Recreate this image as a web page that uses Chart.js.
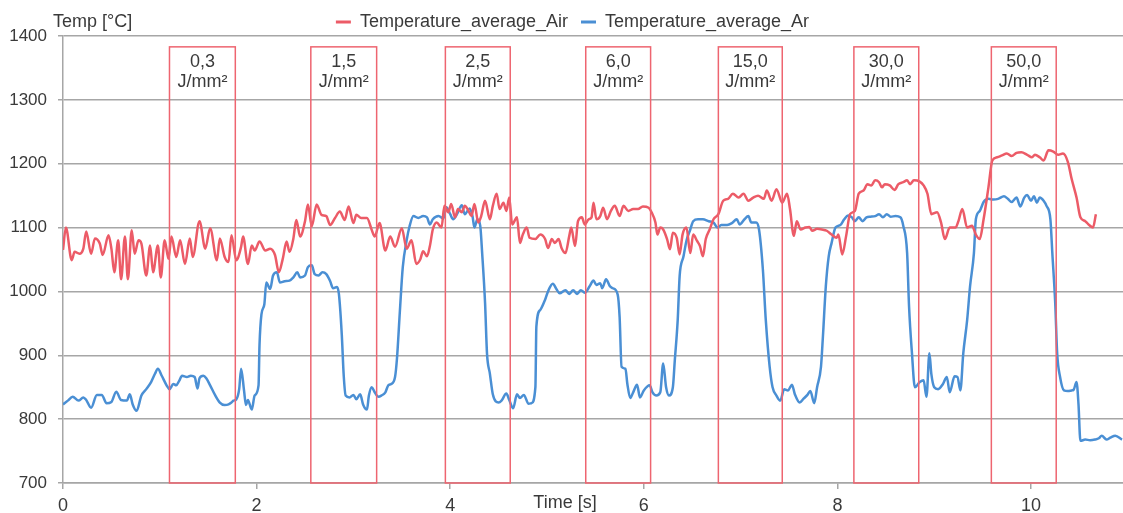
<!DOCTYPE html>
<html lang="en">
<head>
    <meta charset="UTF-8">
    <title>Temperature average Air / Ar</title>
    <script src="https://cdn.jsdelivr.net/npm/chart.js"></script>
    <style>
        body {
            margin: 0;
            padding: 0;
            background-color: #ffffff;
        }

        .chart-container {
            width: 1123px;
            height: 513px;
            position: relative;
        }
    </style>
</head>
<body>
    <div class="chart-container">
        <canvas id="tempChart"></canvas>
    </div>

    <script>
        // Time [s] and temperature [°C]
        const airTime = [0.00, 0.03, 0.09, 0.12, 0.17, 0.21, 0.24, 0.29, 0.33, 0.38, 0.41, 0.47, 0.50, 0.53, 0.57, 0.60, 0.64, 0.67, 0.71, 0.74,
            0.78, 0.81, 0.86, 0.90, 0.93, 0.98, 1.01, 1.05, 1.09, 1.12, 1.17, 1.21, 1.26, 1.31, 1.34, 1.41, 1.47, 1.52, 1.59, 1.62,
            1.67, 1.71, 1.74, 1.79, 1.84, 1.86, 1.91, 1.95, 1.98, 2.03, 2.09, 2.14, 2.19, 2.23, 2.27, 2.31, 2.34, 2.38, 2.41, 2.45,
            2.50, 2.53, 2.57, 2.62, 2.67, 2.72, 2.76, 2.81, 2.86, 2.91, 2.95, 3.00, 3.03, 3.08, 3.14, 3.19, 3.22, 3.27, 3.33, 3.38,
            3.43, 3.50, 3.55, 3.60, 3.65, 3.69, 3.72, 3.76, 3.79, 3.82, 3.86, 3.91, 3.94, 3.98, 4.01, 4.05, 4.08, 4.12, 4.15, 4.19,
            4.22, 4.25, 4.29, 4.32, 4.36, 4.41, 4.44, 4.48, 4.51, 4.55, 4.58, 4.61, 4.64, 4.69, 4.72, 4.75, 4.79, 4.82, 4.88, 4.93,
            4.98, 5.01, 5.05, 5.08, 5.12, 5.15, 5.19, 5.23, 5.25, 5.29, 5.32, 5.36, 5.39, 5.43, 5.46, 5.48, 5.51, 5.55, 5.58, 5.62,
            5.66, 5.70, 5.75, 5.79, 5.84, 5.89, 5.94, 5.99, 6.05, 6.08, 6.12, 6.14, 6.17, 6.20, 6.24, 6.27, 6.30, 6.34, 6.37, 6.40,
            6.44, 6.48, 6.51, 6.55, 6.58, 6.61, 6.64, 6.68, 6.72, 6.77, 6.82, 6.87, 6.92, 6.98, 7.03, 7.08, 7.13, 7.18, 7.24, 7.27,
            7.32, 7.37, 7.43, 7.48, 7.51, 7.55, 7.58, 7.62, 7.67, 7.71, 7.74, 7.79, 7.84, 7.89, 7.94, 7.99, 8.01, 8.05, 8.09, 8.13,
            8.18, 8.22, 8.27, 8.31, 8.35, 8.39, 8.43, 8.46, 8.49, 8.54, 8.59, 8.63, 8.68, 8.72, 8.75, 8.79, 8.85, 8.89, 8.93, 8.97,
            9.03, 9.07, 9.11, 9.16, 9.22, 9.25, 9.29, 9.34, 9.39, 9.43, 9.47, 9.51, 9.56, 9.60, 9.65, 9.70, 9.75, 9.80, 9.85, 9.90,
            9.96, 10.01, 10.04, 10.09, 10.13, 10.18, 10.23, 10.28, 10.33, 10.38, 10.42, 10.47, 10.51, 10.56, 10.60, 10.64, 10.67];
        const airTemp = [1065, 1100, 1049, 1062, 1059, 1067, 1094, 1059, 1083, 1075, 1057, 1088, 1067, 1030, 1080, 1019, 1086, 1019, 1096, 1059,
            1080, 1075, 1025, 1072, 1030, 1072, 1022, 1080, 1051, 1086, 1054, 1080, 1043, 1083, 1054, 1110, 1067, 1099, 1049, 1083,
            1054, 1046, 1088, 1049, 1070, 1086, 1043, 1072, 1064, 1078, 1064, 1067, 1057, 1030, 1051, 1078, 1062, 1083, 1112, 1086,
            1110, 1136, 1102, 1136, 1120, 1118, 1104, 1115, 1125, 1112, 1133, 1107, 1120, 1115, 1115, 1096, 1086, 1107, 1064, 1086,
            1070, 1099, 1067, 1080, 1043, 1050, 1063, 1055, 1071, 1097, 1108, 1100, 1134, 1124, 1137, 1116, 1129, 1124, 1134, 1126,
            1118, 1137, 1108, 1118, 1142, 1113, 1134, 1153, 1129, 1139, 1126, 1147, 1105, 1116, 1076, 1089, 1100, 1084, 1082, 1089,
            1082, 1068, 1082, 1076, 1082, 1068, 1060, 1087, 1100, 1071, 1110, 1116, 1105, 1113, 1116, 1139, 1113, 1118, 1131, 1113,
            1126, 1134, 1118, 1134, 1126, 1129, 1129, 1133, 1131, 1124, 1108, 1089, 1100, 1097, 1082, 1066, 1092, 1084, 1058, 1089,
            1100, 1060, 1089, 1079, 1071, 1055, 1082, 1097, 1113, 1121, 1142, 1145, 1153, 1147, 1153, 1142, 1147, 1150, 1145, 1158,
            1142, 1160, 1139, 1153, 1129, 1087, 1110, 1097, 1100, 1101, 1095, 1098, 1097, 1095, 1089, 1084, 1089, 1058, 1087, 1121,
            1126, 1153, 1158, 1168, 1166, 1174, 1171, 1163, 1168, 1166, 1159, 1168, 1171, 1174, 1168, 1174, 1172, 1166, 1153, 1121,
            1124, 1108, 1082, 1100, 1100, 1110, 1129, 1100, 1103, 1089, 1082, 1113, 1163, 1205, 1210, 1213, 1216, 1212, 1217, 1218,
            1214, 1210, 1214, 1210, 1205, 1221, 1219, 1214, 1216, 1203, 1176, 1147, 1116, 1110, 1104, 1100, 1121];

        const arTime = [0.00, 0.05, 0.10, 0.16, 0.21, 0.24, 0.29, 0.35, 0.40, 0.45, 0.50, 0.55, 0.60, 0.66, 0.69, 0.72, 0.76, 0.81, 0.86, 0.91,
            0.95, 0.98, 1.02, 1.07, 1.10, 1.14, 1.17, 1.20, 1.23, 1.28, 1.32, 1.36, 1.39, 1.41, 1.45, 1.48, 1.52, 1.57, 1.62, 1.67,
            1.71, 1.74, 1.76, 1.79, 1.82, 1.84, 1.87, 1.89, 1.91, 1.95, 1.98, 2.02, 2.03, 2.05, 2.08, 2.10, 2.14, 2.17, 2.21, 2.24,
            2.29, 2.34, 2.38, 2.42, 2.45, 2.50, 2.53, 2.57, 2.60, 2.64, 2.68, 2.72, 2.76, 2.79, 2.83, 2.85, 2.88, 2.90, 2.92, 2.96,
            3.00, 3.03, 3.07, 3.10, 3.14, 3.16, 3.19, 3.22, 3.26, 3.29, 3.33, 3.36, 3.39, 3.43, 3.45, 3.48, 3.51, 3.55, 3.58, 3.62,
            3.67, 3.72, 3.76, 3.79, 3.82, 3.88, 3.93, 3.96, 4.00, 4.03, 4.07, 4.12, 4.15, 4.20, 4.23, 4.25, 4.28, 4.31, 4.33, 4.36,
            4.38, 4.41, 4.44, 4.50, 4.53, 4.58, 4.61, 4.65, 4.69, 4.72, 4.76, 4.81, 4.84, 4.88, 4.89, 4.93, 4.98, 5.01, 5.06, 5.10,
            5.13, 5.19, 5.23, 5.27, 5.31, 5.35, 5.39, 5.44, 5.48, 5.51, 5.55, 5.57, 5.61, 5.65, 5.68, 5.73, 5.75, 5.77, 5.81, 5.83,
            5.86, 5.89, 5.93, 5.96, 6.00, 6.06, 6.09, 6.13, 6.17, 6.20, 6.23, 6.26, 6.30, 6.32, 6.35, 6.37, 6.41, 6.44, 6.48, 6.51,
            6.56, 6.61, 6.67, 6.72, 6.76, 6.80, 6.86, 6.91, 6.96, 6.99, 7.04, 7.08, 7.11, 7.16, 7.19, 7.23, 7.26, 7.30, 7.33, 7.37,
            7.41, 7.45, 7.49, 7.53, 7.56, 7.61, 7.65, 7.69, 7.72, 7.76, 7.79, 7.83, 7.85, 7.88, 7.91, 7.94, 7.98, 8.03, 8.07, 8.11,
            8.15, 8.18, 8.22, 8.26, 8.30, 8.34, 8.39, 8.43, 8.47, 8.51, 8.55, 8.60, 8.65, 8.68, 8.72, 8.74, 8.77, 8.80, 8.85, 8.89,
            8.92, 8.95, 8.97, 9.00, 9.04, 9.09, 9.13, 9.16, 9.21, 9.24, 9.27, 9.30, 9.34, 9.37, 9.41, 9.43, 9.47, 9.51, 9.56, 9.61,
            9.66, 9.72, 9.76, 9.80, 9.85, 9.89, 9.93, 9.96, 10.00, 10.03, 10.06, 10.09, 10.13, 10.16, 10.20, 10.22, 10.25, 10.27, 10.30, 10.34,
            10.38, 10.42, 10.44, 10.47, 10.49, 10.51, 10.56, 10.61, 10.66, 10.70, 10.73, 10.78, 10.82, 10.87, 10.94];
        const arTemp = [823, 829, 835, 829, 834, 830, 818, 838, 838, 825, 827, 843, 830, 829, 839, 823, 813, 837, 847, 858,
            871, 879, 868, 853, 847, 855, 853, 860, 868, 866, 868, 866, 848, 864, 868, 864, 853, 838, 826, 822,
            823, 826, 829, 831, 847, 879, 845, 822, 830, 815, 837, 853, 916, 964, 980, 1014, 1004, 1025, 1030, 1014,
            1016, 1017, 1022, 1030, 1022, 1025, 1038, 1041, 1027, 1025, 1030, 1027, 1016, 1005, 1007, 996, 932, 868, 837, 834,
            838, 831, 839, 823, 815, 837, 850, 842, 835, 837, 842, 853, 855, 866, 895, 969, 1038, 1080, 1102, 1118,
            1115, 1118, 1116, 1105, 1113, 1118, 1114, 1132, 1121, 1113, 1121, 1135, 1121, 1130, 1118, 1100, 1113, 1103, 1060, 982,
            903, 871, 839, 826, 829, 840, 830, 817, 839, 833, 838, 824, 825, 850, 945, 971, 987, 1000, 1012, 1003,
            997, 1002, 996, 1002, 996, 1002, 998, 1008, 1017, 1010, 1013, 1005, 1019, 1008, 1005, 995, 960, 882, 879, 855,
            833, 842, 854, 834, 845, 853, 842, 837, 842, 887, 850, 837, 850, 892, 955, 1024, 1055, 1079, 1097, 1110,
            1113, 1113, 1110, 1108, 1100, 1104, 1104, 1107, 1113, 1105, 1113, 1118, 1108, 1108, 1097, 1034, 955, 882, 850, 837,
            829, 847, 845, 854, 839, 826, 832, 838, 844, 825, 850, 882, 929, 1008, 1055, 1076, 1100, 1104, 1113, 1119,
            1116, 1110, 1116, 1110, 1116, 1117, 1118, 1121, 1116, 1121, 1117, 1118, 1116, 1103, 1060, 976, 903, 850, 858, 861,
            835, 903, 871, 850, 847, 855, 866, 842, 867, 866, 845, 903, 955, 1008, 1060, 1113, 1126, 1140, 1145, 1144,
            1145, 1149, 1145, 1140, 1147, 1133, 1147, 1151, 1142, 1149, 1139, 1147, 1142, 1134, 1113, 1060, 981, 903, 866, 845,
            844, 845, 846, 858, 824, 766, 768, 767, 768, 770, 774, 768, 771, 774, 768];

        // Energy density windows (red boxes)
        const boxStart = [1.10, 2.56, 3.95, 5.40, 6.77, 8.17, 9.59];
        const boxEnd = [1.78, 3.24, 4.62, 6.07, 7.43, 8.84, 10.26];
        const boxLabel = ['0,3', '1,5', '2,5', '6,0', '15,0', '30,0', '50,0'];
        const boxTop = 1383;

        const yTicks = [700, 800, 900, 1000, 1100, 1200, 1300, 1400];
        const xTicks = [0, 2, 4, 6, 8, 10];

        const FONT = '"Liberation Sans", Arial, sans-serif';
        const TEXT = '#3a3a3a';
        const GRID = '#a6a6a6';

        const toPoints = (xs, ys) => xs.map((t, i) => ({ x: t, y: ys[i] }));

        // Boxes, box labels and axis titles
        const overlay = {
            id: 'overlay',
            afterLayout(chart) {
                // the legend sits a little right of the canvas centre
                chart.legend.left += 22;
            },
            afterDatasetsDraw(chart) {
                const { ctx, scales: { x, y } } = chart;
                const top = y.getPixelForValue(boxTop);
                const bottom = y.getPixelForValue(700);
                ctx.save();
                ctx.strokeStyle = '#ee6570';
                ctx.lineWidth = 1.5;
                ctx.fillStyle = TEXT;
                ctx.font = '18px ' + FONT;
                ctx.textAlign = 'center';
                ctx.textBaseline = 'middle';
                boxStart.forEach((s, i) => {
                    const l = x.getPixelForValue(s);
                    const r = x.getPixelForValue(boxEnd[i]);
                    ctx.strokeRect(l, top, r - l, bottom - top);
                    ctx.fillText(boxLabel[i], (l + r) / 2, top + 15);
                    ctx.fillText('J/mm²', (l + r) / 2, top + 35);
                });
                ctx.textBaseline = 'alphabetic';
                ctx.textAlign = 'left';
                ctx.fillText('Temp [°C]', chart.chartArea.left - 10, 27);
                ctx.textAlign = 'center';
                ctx.fillText('Time [s]', 565, 508);
                ctx.restore();
            }
        };

        const ctx = document.getElementById('tempChart').getContext('2d');

        new Chart(ctx, {
            type: 'line',
            data: {
                datasets: [{
                    label: 'Temperature_average_Air',
                    data: toPoints(airTime, airTemp),
                    borderColor: '#ec5b67',
                    backgroundColor: '#ec5b67',
                    borderWidth: 2.5,
                    pointRadius: 0,
                    cubicInterpolationMode: 'monotone'
                }, {
                    label: 'Temperature_average_Ar',
                    data: toPoints(arTime, arTemp),
                    borderColor: '#4a8fd4',
                    backgroundColor: '#4a8fd4',
                    borderWidth: 2.5,
                    pointRadius: 0,
                    cubicInterpolationMode: 'monotone'
                }]
            },
            options: {
                responsive: true,
                maintainAspectRatio: false,
                animation: false,
                devicePixelRatio: 1,
                layout: { padding: 0 },
                plugins: {
                    tooltip: { enabled: false },
                    legend: {
                        maxHeight: 36,
                        labels: {
                            color: TEXT,
                            font: { family: FONT, size: 18 },
                            boxWidth: 15,
                            boxHeight: 3,
                            padding: 13,
                            generateLabels: chart => Chart.defaults.plugins.legend.labels.generateLabels(chart)
                                .map(item => ({ ...item, lineWidth: 0 }))
                        }
                    }
                },
                scales: {
                    x: {
                        type: 'linear',
                        min: 0,
                        max: 10.95,
                        afterFit: scale => { scale.height = 30; },
                        afterBuildTicks: scale => { scale.ticks = xTicks.map(v => ({ value: v })); },
                        ticks: {
                            color: TEXT,
                            font: { family: FONT, size: 18 },
                            padding: 6,
                            maxRotation: 0,
                            callback: v => String(v)
                        },
                        grid: {
                            drawOnChartArea: false,
                            drawTicks: true,
                            tickLength: 6,
                            color: GRID,
                            lineWidth: 1.5
                        },
                        border: { color: GRID, width: 1.5 }
                    },
                    y: {
                        min: 700,
                        max: 1400,
                        afterFit: scale => { scale.width = 63; },
                        afterBuildTicks: scale => { scale.ticks = yTicks.map(v => ({ value: v })); },
                        ticks: {
                            color: TEXT,
                            font: { family: FONT, size: 17 },
                            padding: 11,
                            callback: v => String(v)
                        },
                        grid: {
                            color: GRID,
                            lineWidth: 1.5,
                            tickLength: 5
                        },
                        border: { color: GRID, width: 1.5 }
                    }
                }
            },
            plugins: [overlay]
        });
    </script>
</body>
</html>
